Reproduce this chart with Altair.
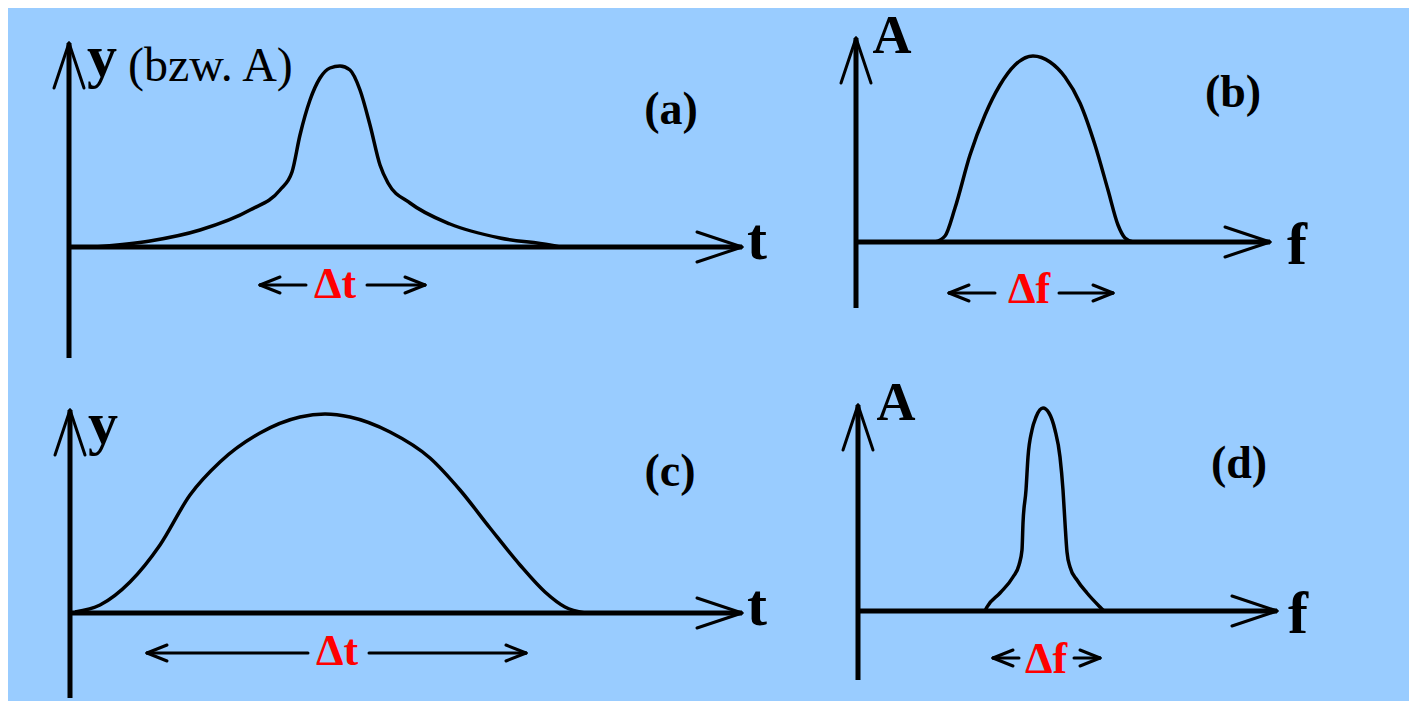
import altair as alt
import pandas as pd

BG = "#99CCFF"
FONT = "Liberation Serif"

# ---------------- data (local units: right of the y-axis, above the t/f axis) ----------------
# panel (a): narrow pulse in time
a_t = [26, 81, 131, 181, 211, 223, 231, 241, 251, 261, 271, 281, 291, 301, 311, 319, 341, 381, 431, 481, 491]
a_y = [0, 6, 17, 37, 57, 75, 112, 147, 169, 179, 181, 177, 157, 122, 82, 64, 44, 23, 9, 2, 0]
# panel (b): broad spectrum
b_f = [79, 89, 99, 114, 129, 144, 159, 177, 194, 209, 224, 239, 252, 262, 269, 277]
b_A = [0, 6, 34, 87, 127, 157, 177, 186, 180, 165, 139, 97, 52, 17, 4, 0]
# panel (c): broad pulse in time
c_t = [5, 30, 60, 90, 120, 150, 190, 230, 255, 280, 320, 360, 390, 420, 450, 475, 495, 515]
c_y = [1, 8, 31, 68, 118, 151, 180, 196, 199, 196, 181, 155, 123, 85, 48, 21, 6, 0]
# panel (d): narrow spectrum
d_f = [127, 129, 142, 155, 161, 164, 165, 168, 170, 174, 178, 185, 191, 197, 202, 205, 207, 209, 212, 219, 229, 242, 246]
d_A = [0, 4, 18, 34, 46, 61, 88, 121, 154, 181, 194, 203, 198, 181, 154, 121, 88, 59, 44, 31, 18, 4, 0]

PANELS = ["a", "b", "c", "d"]
# axis extents per panel: bottom of vertical axis, tip of vertical axis, tip of horizontal axis
AX_BOTTOM = [-111, -66, -85, -69]
AX_TOP = [204, 204, 203, 206]
AX_RIGHT = [673, 414, 672, 419]
# width markers (Δt / Δf): level, left tip, left inner end, right inner end, right tip
D_LEVEL = [-38, -51, -40, -47]
D_LTIP = [191, 93, 77, 135]
D_LIN = [237, 139, 238, 161]
D_RIN = [298, 203, 299, 216]
D_RTIP = [356, 257, 456, 242]
D_TEXT = ["Δt", "Δf", "Δt", "Δf"]
D_TX = [266, 173, 267, 188]
D_TY = [-51, -61, -52, -62]
# axis names and panel tags
V_NAME = ["y", "A", "y", "A"]
V_NX = [33, 36, 33, 38]
V_NY = [171, 189, 170, 191]
V_SIZE = [60, 54, 60, 54]
H_NAME = ["t", "f", "t", "f"]
H_NX = [688, 441, 687, 440]
H_NY = [-12, -22, -12, -22]
TAG = ["(a)", "(b)", "(c)", "(d)"]
TAG_X = [602, 377, 600, 381]
TAG_Y = [123, 135, 127, 133]
# extra note next to the y of panel (a)
NOTE = "(bzw. A)"
NOTE_X, NOTE_Y = 59, 166

# panel layout
COL_W = [792, 609]
ROW_H = [387, 303]
X_DOM = [(-61, 731), (-56, 553), (-62, 730), (-58, 551)]
Y_DOM = [(-148, 239), (-153, 234), (-85, 218), (-87, 216)]

CURVES = [(a_t, a_y), (b_f, b_A), (c_t, c_y), (d_f, d_A)]

WING_LEN, WING_HALF = 45, 15
BARB_LEN, BARB_HALF = 20, 8


def panel(i):
    w = COL_W[i % 2]
    h = ROW_H[i // 2]
    xs = alt.Scale(domain=list(X_DOM[i]), nice=False, zero=False)
    ys = alt.Scale(domain=list(Y_DOM[i]), nice=False, zero=False)
    X = lambda f: alt.X(f, type="quantitative", scale=xs, axis=None)
    Y = lambda f: alt.Y(f, type="quantitative", scale=ys, axis=None)

    top, right = AX_TOP[i], AX_RIGHT[i]
    axes = pd.DataFrame({
        "x": [0, 0], "y": [AX_BOTTOM[i], 0],
        "x2": [0, right], "y2": [top, 0],
    })
    wings = pd.DataFrame({
        "x": [0, 0, right, right],
        "y": [top, top, 0, 0],
        "x2": [-WING_HALF, WING_HALF, right - WING_LEN, right - WING_LEN],
        "y2": [top - WING_LEN, top - WING_LEN, WING_HALF, -WING_HALF],
    })
    lv = D_LEVEL[i]
    lt, li, ri, rt = D_LTIP[i], D_LIN[i], D_RIN[i], D_RTIP[i]
    darrows = pd.DataFrame({
        "x": [li, ri, lt, lt, rt, rt],
        "y": [lv] * 6,
        "x2": [lt, rt, lt + BARB_LEN, lt + BARB_LEN, rt - BARB_LEN, rt - BARB_LEN],
        "y2": [lv, lv, lv + BARB_HALF, lv - BARB_HALF, lv + BARB_HALF, lv - BARB_HALF],
    })
    cx, cy = CURVES[i]
    curve = pd.DataFrame({"x": cx, "y": cy})

    labels = pd.DataFrame({
        "x": [V_NX[i], H_NX[i], TAG_X[i], D_TX[i]],
        "y": [V_NY[i], H_NY[i], TAG_Y[i], D_TY[i]],
        "text": [V_NAME[i], H_NAME[i], TAG[i], D_TEXT[i]],
        "size": [V_SIZE[i], 60, 46, 44],
        "color": ["black", "black", "black", "red"],
    })

    layers = [
        alt.Chart(axes).mark_rule(color="black", strokeWidth=5).encode(
            x=X("x"), y=Y("y"), x2=alt.X2("x2"), y2=alt.Y2("y2")),
        alt.Chart(wings).mark_rule(color="black", strokeWidth=3, strokeCap="round").encode(
            x=X("x"), y=Y("y"), x2=alt.X2("x2"), y2=alt.Y2("y2")),
        alt.Chart(curve).mark_line(color="black", strokeWidth=3.5, interpolate="monotone").encode(
            x=X("x"), y=Y("y")),
        alt.Chart(darrows).mark_rule(color="black", strokeWidth=3, strokeCap="round").encode(
            x=X("x"), y=Y("y"), x2=alt.X2("x2"), y2=alt.Y2("y2")),
        alt.Chart(labels).mark_text(font=FONT, fontWeight="bold", align="center",
                                    baseline="alphabetic").encode(
            x=X("x"), y=Y("y"), text="text:N",
            size=alt.Size("size:Q", scale=None, legend=None),
            color=alt.Color("color:N", scale=None, legend=None)),
    ]
    if i == 0:
        note = pd.DataFrame({"x": [NOTE_X], "y": [NOTE_Y], "text": [NOTE]})
        layers.append(
            alt.Chart(note).mark_text(font=FONT, fontSize=48, align="left",
                                      baseline="alphabetic", color="black").encode(
                x=X("x"), y=Y("y"), text="text:N"))
    return alt.layer(*layers).properties(width=w, height=h)


chart = alt.concat(
    panel(0), panel(1), panel(2), panel(3),
    columns=2, spacing=0, bounds="flush",
).properties(
    padding=0, background=BG
).configure_view(stroke=None).configure_concat(spacing=0)

chart.save("out.html", embed_options={"renderer": "svg", "actions": False})
